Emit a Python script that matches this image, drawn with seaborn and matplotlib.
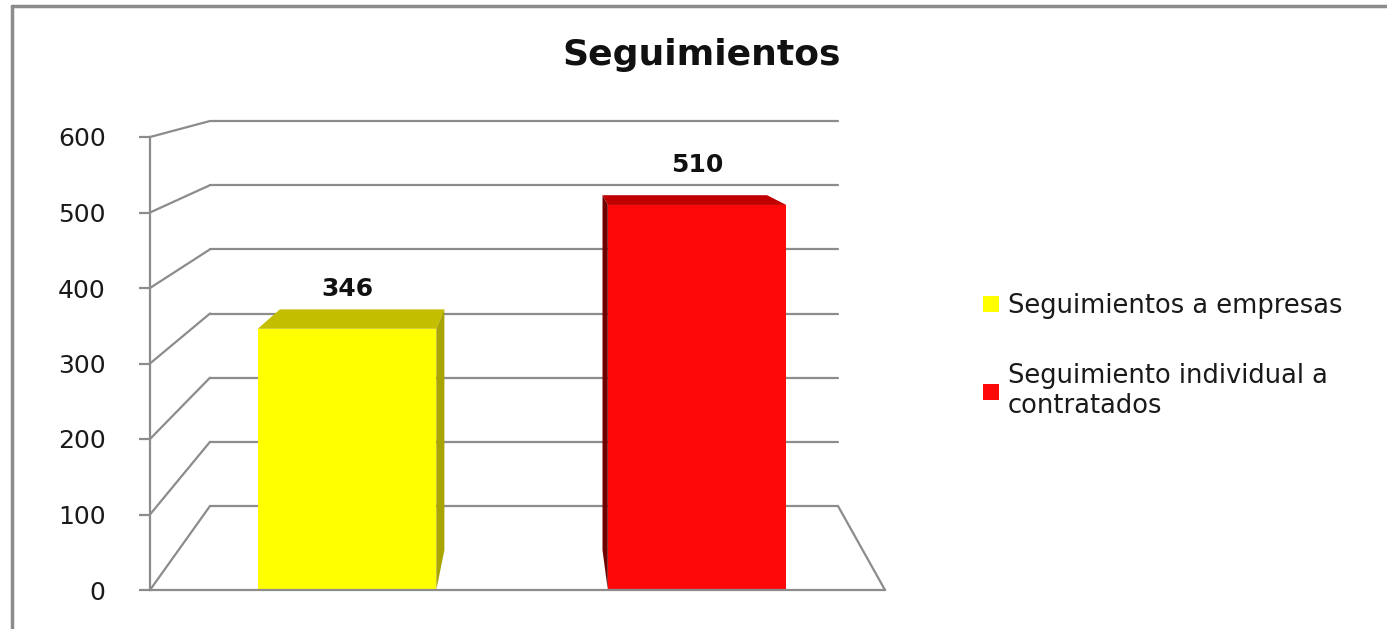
import numpy as np
import pandas as pd
import matplotlib.pyplot as plt
import seaborn as sns
from matplotlib.patches import ConnectionPatch, Polygon, Patch
from matplotlib.lines import Line2D

# datos del grafico
series = ['Seguimientos a empresas', 'Seguimiento individual a contratados']
legend_labels = ['Seguimientos a empresas', 'Seguimiento individual a\ncontratados']
valores = [346, 510]
colores = ['#FFFF00', '#FE0909']
colores_top = ['#C4BE00', '#C00000']
colores_lado = ['#A8A400', '#700000']
yticks = [0, 100, 200, 300, 400, 500, 600]

sns.set_style('white')
plt.rcParams['font.family'] = ['DejaVu Sans']

W, H = 1387, 629
fig = plt.figure(figsize=(W / 100, H / 100), dpi=100)
grid_color = '#8c8c8c'

def px_rect(x0, y_top, x1, y_bot):
    return [x0 / W, 1 - y_bot / H, (x1 - x0) / W, (y_bot - y_top) / H]

# pared del fondo (perspectiva)
ax_back = fig.add_axes(px_rect(210, 121, 838, 506))
ax_back.set_ylim(0, 600)
ax_back.set_xlim(0, 1)
ax_back.set_yticks(yticks)
ax_back.set_xticks([])
ax_back.tick_params(left=False, labelleft=False)
ax_back.grid(axis='y', color=grid_color, lw=1.6)
for gl in ax_back.get_ygridlines():
    gl.set_clip_on(False)
for s in ax_back.spines.values():
    s.set_visible(False)
ax_back.patch.set_alpha(0)

# eje frontal con las barras
ax = fig.add_axes(px_rect(150, 137, 885, 590))
ax.patch.set_alpha(0)
df = pd.DataFrame({'serie': series, 'valor': valores})
sns.barplot(data=df, x='serie', y='valor', hue='serie', palette=colores,
            width=0.51, ax=ax, legend=False, saturation=1, linewidth=0)
ax.set_xlim(-0.563, 1.537)
ax.set_ylim(0, 600)
ax.set_yticks(yticks)
ax.set_xticks([])
ax.set_xlabel('')
ax.set_ylabel('')
ax.tick_params(axis='y', direction='out', length=8, width=1.6, color=grid_color,
               labelsize=18, pad=24, left=True, labelcolor='#1a1a1a')
for side in ['top', 'right']:
    ax.spines[side].set_visible(False)
for side in ['left', 'bottom']:
    ax.spines[side].set_color(grid_color)
    ax.spines[side].set_linewidth(1.6)

# lineas diagonales de la pared lateral y del suelo
for v in yticks:
    con = ConnectionPatch(xyA=(ax.get_xlim()[0], v), coordsA=ax.transData,
                          xyB=(0, v), coordsB=ax_back.transData,
                          color=grid_color, lw=1.6)
    fig.add_artist(con)
con = ConnectionPatch(xyA=(1, 0), coordsA=ax_back.transData,
                      xyB=(ax.get_xlim()[1], 0), coordsB=ax.transData,
                      color=grid_color, lw=1.6)
fig.add_artist(con)

# caras 3D de las barras
fig.canvas.draw()
vp = np.array([540, H - 80])
k = 0.078

def atras(p):
    p = np.asarray(p, dtype=float)
    return p + k * (vp - p)

for i, bar in enumerate(ax.patches):
    x0, y0 = ax.transData.transform((bar.get_x(), 0))
    x1, y1 = ax.transData.transform((bar.get_x() + bar.get_width(), bar.get_height()))
    top = [(x0, y1), (x1, y1), atras((x1, y1)), atras((x0, y1))]
    fig.add_artist(Polygon(top, closed=True, transform=None, color=colores_top[i], lw=0))
    xs = x1 if i == 0 else x0
    lado = [(xs, y1), atras((xs, y1)), atras((xs, y0)), (xs, y0)]
    fig.add_artist(Polygon(lado, closed=True, transform=None, color=colores_lado[i], lw=0))
    ax.annotate(str(valores[i]), xy=(bar.get_x() + bar.get_width() / 2, bar.get_height()),
                xytext=(0, 20), textcoords='offset points', ha='center', va='bottom',
                fontsize=18, fontweight='bold', color='#111111')

fig.text(702 / W, 1 - 55 / H, 'Seguimientos', ha='center', va='center',
         fontsize=26, fontweight='bold', color='#111111')

handles = [Patch(facecolor=c, edgecolor='none') for c in colores]
fig.legend(handles, legend_labels, loc='upper left', bbox_to_anchor=(960 / W, 1 - 270 / H),
           frameon=False, fontsize=18.5, handlelength=0.6, handleheight=0.6,
           handletextpad=0.35, labelspacing=1.7, labelcolor='#1a1a1a')

# marco exterior
fig.add_artist(Line2D([12 / W, 12 / W], [0, 1 - 6 / H], color='#8c8c8c', lw=2.5))
fig.add_artist(Line2D([12 / W, 1], [1 - 6 / H, 1 - 6 / H], color='#8c8c8c', lw=2.5))

fig.savefig('out.png', dpi=100)
